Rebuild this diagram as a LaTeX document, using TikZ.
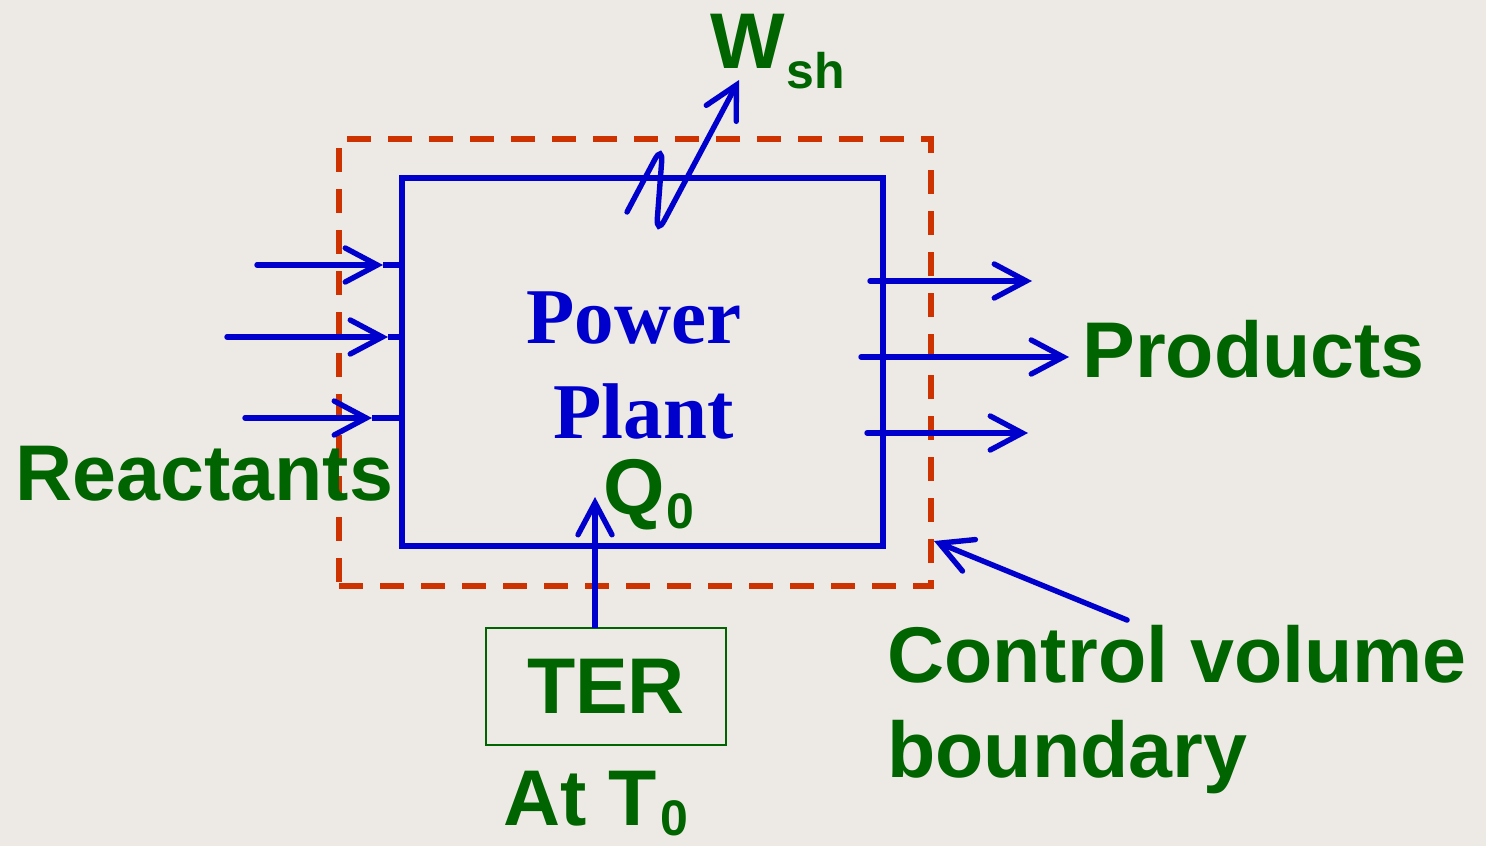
\documentclass[tikz,border=0pt]{standalone}
\usepackage{fontspec}
\setmainfont{Liberation Sans}
\newfontfamily\timesf{Liberation Serif}
\usetikzlibrary{arrows.meta}
\definecolor{bgc}{RGB}{237,233,229}
\definecolor{grn}{RGB}{0,100,0}
\definecolor{blu}{RGB}{0,0,204}
\definecolor{ora}{RGB}{204,51,0}
\tikzset{
  flow/.style={draw=blu, line width=2.7pt, line cap=round, -{Straight Barb[length=16pt,width=17pt,line cap=round]}},
  plain/.style={draw=blu, line width=2.7pt},
  lbl/.style={text=grn, font=\fontsize{39.5}{44}\selectfont\bfseries, inner sep=0pt, anchor=base west},
  sub/.style={text=grn, font=\fontsize{25}{28}\selectfont\bfseries, inner sep=0pt, anchor=base west},
  ptxt/.style={text=blu, font=\fontsize{39.5}{44}\selectfont\timesf\bfseries, inner sep=0pt, anchor=base west},
}
\begin{document}
\begin{tikzpicture}[x=0.5pt,y=-0.5pt]
\fill[bgc] (0,0) rectangle (1486,846);
\useasboundingbox (0,0) rectangle (1486,846);

% plant box
\node[draw=blu, line width=2.7pt, minimum width=240.5pt, minimum height=184pt, inner sep=0pt, outer sep=0pt] (box) at (642.5,362) {};
% control volume boundary
\node[draw=ora, line width=3pt, dash pattern=on 12pt off 8.5pt, minimum width=296pt, minimum height=223.5pt, inner sep=0pt, outer sep=0pt] (cv) at (635,362.5) {};

% TER box
\node[draw=grn, line width=1pt, minimum width=120pt, minimum height=58.5pt, inner sep=0pt, outer sep=0pt, text=grn, font=\fontsize{39.5}{44}\selectfont\bfseries] (ter) at (606,686.5) {TER};

% texts
\node[ptxt] (pw) at (526,343) {Power};
\node[ptxt] (pl) at (553,438) {Plant};
\node[lbl] (react) at (15,500) {Reactants};
\node[lbl] (prod) at (1082,377) {Products};
\node[lbl] (cv1) at (887,682) {Control volume};
\node[lbl] (cv2) at (887,777) {boundary};
\node[lbl] (W) at (710,68) {W};
\node[sub] (sh) at (786,88) {sh};
\node[lbl] (Q) at (603,514) {Q};
\node[sub] (q0) at (666,528) {0};
\node[lbl] (at) at (503,825) {At T};
\node[sub] (t0) at (660,835) {0};

% reactant arrows
\coordinate (r1) at (257,265); \coordinate (r1t) at (383,265);
\coordinate (r2) at (227,337); \coordinate (r2t) at (388,337);
\coordinate (r3) at (245,418); \coordinate (r3t) at (372,418);
\draw[flow] (r1) -- (r1t); \draw[plain] (r1t) -- (r1t -| box.west);
\draw[flow] (r2) -- (r2t); \draw[plain] (r2t) -- (r2t -| box.west);
\draw[flow] (r3) -- (r3t); \draw[plain] (r3t) -- (r3t -| box.west);

% product arrows
\coordinate (p1) at (870,281); \coordinate (p1t) at (1032,281);
\coordinate (p2) at (861,357); \coordinate (p2t) at (1069,357);
\coordinate (p3) at (867,433); \coordinate (p3t) at (1028,433);
\draw[flow] (p1) -- (p1t);
\draw[flow] (p2) -- (p2t);
\draw[flow] (p3) -- (p3t);

% shaft work
\coordinate (w0) at (627,212);
\coordinate (w1) at (663,144);
\coordinate (w2) at (656,236);
\coordinate (wt) at (739,80);
\draw[flow, rounded corners=9pt] (w0) -- (w1) -- (w2) -- (wt);

% heat from TER
\coordinate (qb) at ([xshift=-5.5pt]ter.north);
\coordinate (qt) at (595,497);
\draw[flow, line cap=butt] (qb) -- (qt);

% control volume pointer
\coordinate (c0) at (1127,620);
\coordinate (ct) at (934,541);
\draw[flow] (c0) -- (ct);
\end{tikzpicture}
\end{document}
